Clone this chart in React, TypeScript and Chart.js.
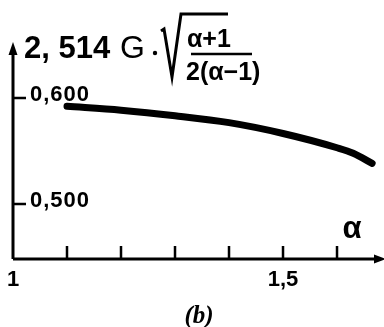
import React, { useEffect, useRef } from "react";
import { Chart, registerables } from "chart.js";

Chart.register(...registerables);

const alphaValues = [1.1, 1.2, 1.3, 1.4, 1.5, 1.6, 1.63, 1.665];
const ratioValues = [0.5921, 0.5884, 0.5832, 0.5767, 0.5665, 0.553, 0.5478, 0.5383];
const xTickValues = [1.1, 1.2, 1.3, 1.4, 1.5, 1.6];
const xTickLabels = [
  { value: 1, text: "1" },
  { value: 1.5, text: "1,5" },
];
const yTickLabels = [
  { value: 0.6, text: "0,600" },
  { value: 0.5, text: "0,500" },
];

const axesPlugin = {
  id: "axesPlugin",
  afterDraw(chart: any) {
    const ctx = chart.ctx as CanvasRenderingContext2D;
    const xs = chart.scales.x;
    const ys = chart.scales.y;
    const { left, right, top, bottom } = chart.chartArea;
    ctx.save();
    ctx.strokeStyle = "#000";
    ctx.fillStyle = "#000";
    ctx.lineCap = "butt";
    // axes
    ctx.lineWidth = 3;
    ctx.beginPath();
    ctx.moveTo(left, bottom);
    ctx.lineTo(left, top + 8);
    ctx.moveTo(left, bottom);
    ctx.lineTo(right - 4, bottom);
    ctx.stroke();
    // arrowheads
    ctx.beginPath();
    ctx.moveTo(left, top - 1);
    ctx.lineTo(left - 4.5, top + 12);
    ctx.lineTo(left + 4.5, top + 12);
    ctx.closePath();
    ctx.fill();
    ctx.beginPath();
    ctx.moveTo(right + 2, bottom);
    ctx.lineTo(right - 10, bottom - 4.5);
    ctx.lineTo(right - 10, bottom + 4.5);
    ctx.closePath();
    ctx.fill();
    // ticks (inward)
    ctx.lineWidth = 2.5;
    ctx.beginPath();
    xTickValues.forEach((v) => {
      const px = xs.getPixelForValue(v);
      ctx.moveTo(px, bottom);
      ctx.lineTo(px, bottom - 13);
    });
    yTickLabels.forEach((t) => {
      const py = ys.getPixelForValue(t.value);
      ctx.moveTo(left, py);
      ctx.lineTo(left + 13, py);
    });
    ctx.stroke();
    // y tick labels
    ctx.font = "bold 22px 'Liberation Sans'";
    (ctx as any).letterSpacing = "1px";
    ctx.textAlign = "left";
    ctx.textBaseline = "middle";
    yTickLabels.forEach((t) => {
      const py = ys.getPixelForValue(t.value);
      ctx.fillText(t.text, left + 17, py - 3);
    });
    (ctx as any).letterSpacing = "0px";
    // x tick labels
    ctx.font = "bold 22px 'Liberation Sans'";
    ctx.textAlign = "center";
    xTickLabels.forEach((t) => {
      const px = xs.getPixelForValue(t.value);
      ctx.fillText(t.text, px, bottom + 21);
    });
    // x axis label alpha
    ctx.font = "bold 31px 'Liberation Sans'";
    ctx.fillText("α", 352, 229);
    // y axis title
    ctx.textAlign = "left";
    ctx.font = "bold 31px 'Liberation Sans'";
    ctx.fillText("2, 514", 24, 49);
    ctx.font = "32px 'Liberation Sans'";
    ctx.fillText("G", 120, 49);
    ctx.beginPath();
    ctx.arc(155, 53, 2.2, 0, Math.PI * 2);
    ctx.fill();
    // sqrt sign
    ctx.lineWidth = 3;
    ctx.lineJoin = "miter";
    ctx.beginPath();
    ctx.moveTo(161, 31);
    ctx.lineTo(164, 29);
    ctx.lineTo(172, 77);
    ctx.lineTo(181, 14);
    ctx.lineTo(228, 14);
    ctx.stroke();
    // fraction
    ctx.font = "bold 25px 'Liberation Sans'";
    ctx.textAlign = "left";
    ctx.fillText("α+1", 187, 40);
    ctx.fillText("2(α−1)", 186, 73);
    ctx.lineWidth = 2.5;
    ctx.beginPath();
    ctx.moveTo(191, 54);
    ctx.lineTo(252, 54);
    ctx.stroke();
    // caption
    ctx.font = "italic bold 25px 'Liberation Serif'";
    ctx.textAlign = "center";
    ctx.fillText("(b)", 199, 317);
    ctx.restore();
  },
};

export default function App() {
  const ref = useRef<HTMLCanvasElement>(null);
  useEffect(() => {
    if (!ref.current) return;
    const chart = new Chart(ref.current, {
      type: "line",
      data: {
        datasets: [
          {
            data: alphaValues.map((a, i) => ({ x: a, y: ratioValues[i] })),
            borderColor: "#000",
            borderWidth: 7,
            borderCapStyle: "round",
            pointRadius: 0,
            cubicInterpolationMode: "monotone",
            fill: false,
          },
        ],
      },
      options: {
        animation: false,
        responsive: false,
        devicePixelRatio: 1,
        layout: { padding: { left: 13, top: 43, right: 0, bottom: 68 } },
        plugins: { legend: { display: false }, tooltip: { enabled: false } },
        scales: {
          x: { type: "linear", min: 1, max: 1.687, display: false },
          y: { type: "linear", min: 0.448, max: 0.6519, display: false },
        },
      },
      plugins: [axesPlugin],
    });
    return () => chart.destroy();
  }, []);
  return (
    <div style={{ position: "fixed", left: 0, top: 0, width: 384, height: 327, background: "#fff" }}>
      <canvas ref={ref} width={384} height={327} />
    </div>
  );
}
